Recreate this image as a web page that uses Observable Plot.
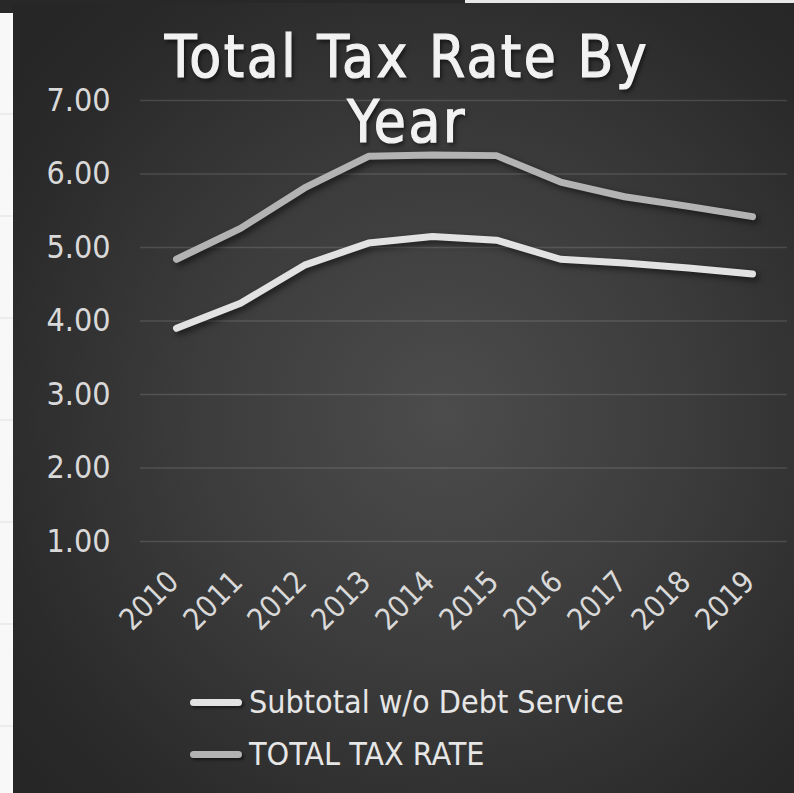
<!DOCTYPE html>
<html>
<head>
<meta charset="utf-8">
<script src="https://cdn.jsdelivr.net/npm/d3@7"></script>
<script src="https://cdn.jsdelivr.net/npm/@observablehq/plot@0.6"></script>
<style>
  html, body { margin: 0; padding: 0; background: #282828; }
  #wrap { position: relative; width: 794px; height: 793px; overflow: hidden; font-family: "DejaVu Sans Condensed", sans-serif; }
  #panel { position: absolute; left: 13px; top: 3px; right: 0; bottom: 0;
    background: radial-gradient(ellipse 70% 70% at 55% 52%, #4c4c4c 0%, #3c3c3c 45%, #2a2a2a 85%, #262626 100%); }
  #leftstrip { position: absolute; left: 0; top: 13px; width: 13px; bottom: 0;
    background: repeating-linear-gradient(to bottom, #f8f8f8 0px, #f8f8f8 100px, #ececec 100px, #ececec 102px); }
  #topstrip { position: absolute; left: 465px; top: 0; width: 329px; height: 3px; background: #e8e8e8; }
  #chart { position: absolute; left: 0; top: 0; }
  #chart svg { background: transparent; overflow: visible; }
  #chart g[aria-label="line"] path { filter: drop-shadow(3px 3px 3px rgba(0,0,0,0.55)); }
  #title { position: absolute; left: 147px; top: 25px; width: 520px; text-align: center;
    color: #f2f2f2; font-size: 58px; font-weight: normal; line-height: 65px;
    -webkit-text-stroke: 1.2px #f2f2f2;
    text-shadow: 2px 3px 4px rgba(0,0,0,0.6); letter-spacing: 2.5px; }
  #legend { position: absolute; left: 190px; top: 676px; color: #e6e6e6; font-size: 32px; }
  .item { display: flex; align-items: center; height: 52px; }
  .swatch { width: 52px; height: 7px; border-radius: 4px; margin-right: 7px;
    box-shadow: 2px 2px 3px rgba(0,0,0,0.5); }
</style>
</head>
<body>
<div id="wrap">
  <div id="panel"></div>
  <div id="leftstrip"></div>
  <div id="topstrip"></div>
  <div id="chart"></div>
  <div id="title">Total Tax Rate By Year</div>
  <div id="legend"></div>
</div>
<script>
const years = [2010, 2011, 2012, 2013, 2014, 2015, 2016, 2017, 2018, 2019];
const subtotalValues = [3.90, 4.24, 4.76, 5.06, 5.15, 5.10, 4.84, 4.79, 4.72, 4.64];
const totalValues = [4.84, 5.26, 5.81, 6.24, 6.26, 6.25, 5.89, 5.69, 5.56, 5.42];
const yTicks = [1, 2, 3, 4, 5, 6, 7];
const seriesNames = ["Subtotal w/o Debt Service", "TOTAL TAX RATE"];
const seriesColors = ["#e2e2e2", "#b3b3b3"];

const rows = [];
years.forEach((yr, i) => {
  rows.push({year: yr, value: subtotalValues[i], series: seriesNames[0]});
  rows.push({year: yr, value: totalValues[i], series: seriesNames[1]});
});

const labelColor = "#d9d9d9";

const chart = Plot.plot({
  width: 794,
  height: 660,
  marginLeft: 140,
  marginRight: 7,
  marginTop: 100,
  marginBottom: 119,
  style: {background: "transparent", color: labelColor, fontFamily: '"DejaVu Sans Condensed", sans-serif'},
  x: {type: "point", domain: years, padding: 0.5, axis: null},
  y: {domain: [1, 7], axis: null},
  color: {domain: seriesNames, range: seriesColors},
  marks: [
    Plot.gridY(yTicks, {stroke: "#ffffff", strokeOpacity: 0.13, strokeWidth: 1.5}),
    Plot.axisY(yTicks, {tickFormat: d3.format(".2f"), tickSize: 0, tickPadding: 30, fontSize: 32, fill: labelColor, label: null}),
    Plot.text(years, {x: d => d, frameAnchor: "bottom", rotate: -45, textAnchor: "end", lineAnchor: "bottom",
      dx: 4, dy: 42, fontSize: 30, fill: labelColor, text: d => String(d)}),
    Plot.line(rows, {x: "year", y: "value", z: "series", stroke: "series", strokeWidth: 7,
      strokeLinecap: "round", strokeLinejoin: "round"})
  ]
});
document.getElementById("chart").appendChild(chart);

const legend = document.getElementById("legend");
seriesNames.forEach((name, i) => {
  const item = document.createElement("div");
  item.className = "item";
  const sw = document.createElement("div");
  sw.className = "swatch";
  sw.style.background = seriesColors[i];
  const label = document.createElement("span");
  label.textContent = name;
  item.appendChild(sw);
  item.appendChild(label);
  legend.appendChild(item);
});
</script>
</body>
</html>
